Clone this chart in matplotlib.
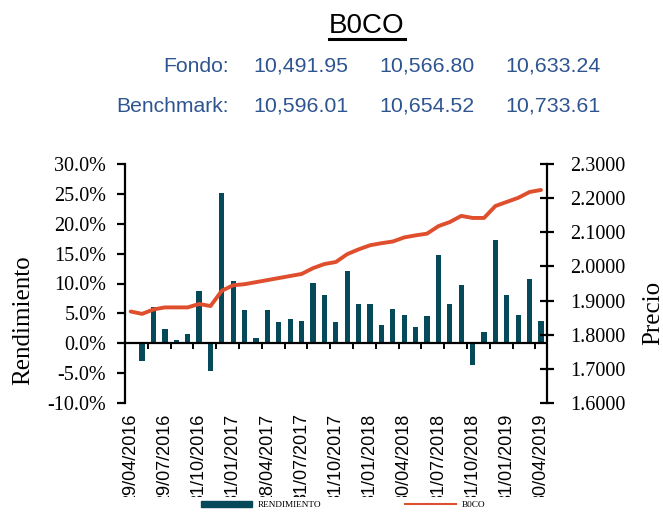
import numpy as np
import matplotlib
matplotlib.use("Agg")
import matplotlib.pyplot as plt
from matplotlib.patches import Patch
from matplotlib.lines import Line2D
from matplotlib.transforms import Bbox, TransformedBbox

# monthly data, 29/04/2016 .. 30/04/2019 (37 months)
rendimiento = [0.0, -2.9, 6.1, 2.4, 0.5, 1.5, 8.8, -4.6, 25.1, 10.5,
               5.5, 0.8, 5.5, 3.5, 4.1, 3.8, 10.1, 8.1, 3.5, 12.1,
               6.5, 6.5, 3.1, 5.8, 4.8, 2.8, 4.5, 14.8, 6.5, 9.8,
               -3.6, 1.8, 17.2, 8.1, 4.8, 10.8, 3.8]
precio = [1.868, 1.861, 1.874, 1.880, 1.880, 1.880, 1.890, 1.884, 1.929, 1.945,
          1.948, 1.954, 1.960, 1.966, 1.972, 1.978, 1.995, 2.007, 2.013, 2.036,
          2.050, 2.062, 2.068, 2.073, 2.085, 2.091, 2.096, 2.118, 2.130, 2.148,
          2.142, 2.142, 2.177, 2.189, 2.201, 2.218, 2.224]
fechas = ["29/04/2016", "29/07/2016", "31/10/2016", "31/01/2017", "28/04/2017",
          "31/07/2017", "31/10/2017", "31/01/2018", "30/04/2018", "31/07/2018",
          "31/10/2018", "31/01/2019", "30/04/2019"]

fondo = ["10,491.95", "10,566.80", "10,633.24"]
benchmark = ["10,596.01", "10,654.52", "10,733.61"]

bar_col = "#06495A"
line_col = "#DF4F2E"
hdr_col = "#2F5590"
serif = "Liberation Serif"
sans = "Liberation Sans"

W, H = 663, 512
fig = plt.figure(figsize=(W / 100, H / 100), dpi=100)
ax = fig.add_axes([125 / W, 1 - 403 / H, (546.7 - 125) / W, (403 - 164) / H])
ax2 = ax.twinx()

x = np.arange(len(rendimiento))
ax.bar(x, rendimiento, width=0.46, color=bar_col, zorder=2)
ax.axhline(0, color="black", lw=1.6, zorder=3)
# small tick marks on the zero line
ax.vlines(np.arange(1.5, len(x) - 1, 2), -0.95, 0, color="black", lw=1.4, zorder=3)

ax2.plot(x, precio, color=line_col, lw=2.8, solid_capstyle="round", zorder=4)

ax.set_xlim(-0.5, len(x) - 0.5)
ax.set_ylim(-10, 30)
ax.set_yticks(np.arange(-10, 31, 5))
ax.set_yticklabels(["{:.1f}%".format(v) for v in np.arange(-10, 31, 5)],
                   fontfamily=serif, fontsize=14.5)
ax2.set_ylim(1.6, 2.3)
ax2.set_yticks(np.arange(1.6, 2.31, 0.1))
ax2.set_yticklabels(["{:.4f}".format(v) for v in np.arange(1.6, 2.31, 0.1)],
                    fontfamily=serif, fontsize=14.5)

ax.set_xticks(np.arange(0, len(x), 3))
ax.set_xticklabels(fechas, rotation=90, fontfamily=sans, fontsize=13)
ax.tick_params(axis="x", length=0, pad=7.5)
ax.tick_params(axis="y", direction="out", length=5.5, width=1.6, pad=8)
ax2.tick_params(axis="y", direction="inout", length=9.5, width=1.6, pad=12)

for a in (ax, ax2):
    for s in ("top", "bottom"):
        a.spines[s].set_visible(False)
ax.spines["right"].set_visible(False)
ax2.spines["left"].set_visible(False)
ax.spines["left"].set_linewidth(1.6)
ax2.spines["right"].set_linewidth(1.6)

# labels get cut at the bottom like the original
clip = TransformedBbox(Bbox([[0, (H - 497) / H], [1, 1]]), fig.transFigure)
for lbl in ax.get_xticklabels():
    lbl.set_clip_on(True)
    lbl.set_clip_box(clip)

fig.text(23 / W, 1 - 320 / H, "Rendimiento", rotation=90, ha="center", va="center",
         fontfamily=serif, fontsize=18)
fig.text(653 / W, 1 - 313 / H, "Precio", rotation=90, ha="center", va="center",
         fontfamily=serif, fontsize=18)

# header
title = fig.text(367 / W, 1 - 33 / H, "B0CO", ha="center", va="baseline",
                 fontfamily=sans, fontsize=20, color="black")
fig.text(229 / W, 1 - 71.7 / H, "Fondo:", ha="right", va="baseline",
         fontfamily=sans, fontsize=15.2, color=hdr_col)
fig.text(229 / W, 1 - 111.7 / H, "Benchmark:", ha="right", va="baseline",
         fontfamily=sans, fontsize=15.2, color=hdr_col)
for i, xs in enumerate([253, 379, 505]):
    fig.text(xs / W, 1 - 71.7 / H, fondo[i], ha="left", va="baseline",
             fontfamily=sans, fontsize=15.4, color=hdr_col)
    fig.text(xs / W, 1 - 111.7 / H, benchmark[i], ha="left", va="baseline",
             fontfamily=sans, fontsize=15.4, color=hdr_col)

fig.canvas.draw()
bb = title.get_window_extent()
fig.add_artist(Line2D([bb.x0 / W, bb.x1 / W], [1 - 38.5 / H, 1 - 38.5 / H],
                      transform=fig.transFigure, color="black", lw=2.2))

handles = [Patch(color=bar_col, label="RENDIMIENTO"),
           Line2D([], [], color=line_col, lw=1.5, label="B0CO")]
fig.legend(handles=handles, loc="center", bbox_to_anchor=(343 / W, 1 - 505 / H),
           ncol=2, frameon=False, prop={"family": serif, "size": 6.7},
           handlelength=5.5, handleheight=0.55, handletextpad=0.6, columnspacing=9)

fig.savefig("out.png", dpi=100)
